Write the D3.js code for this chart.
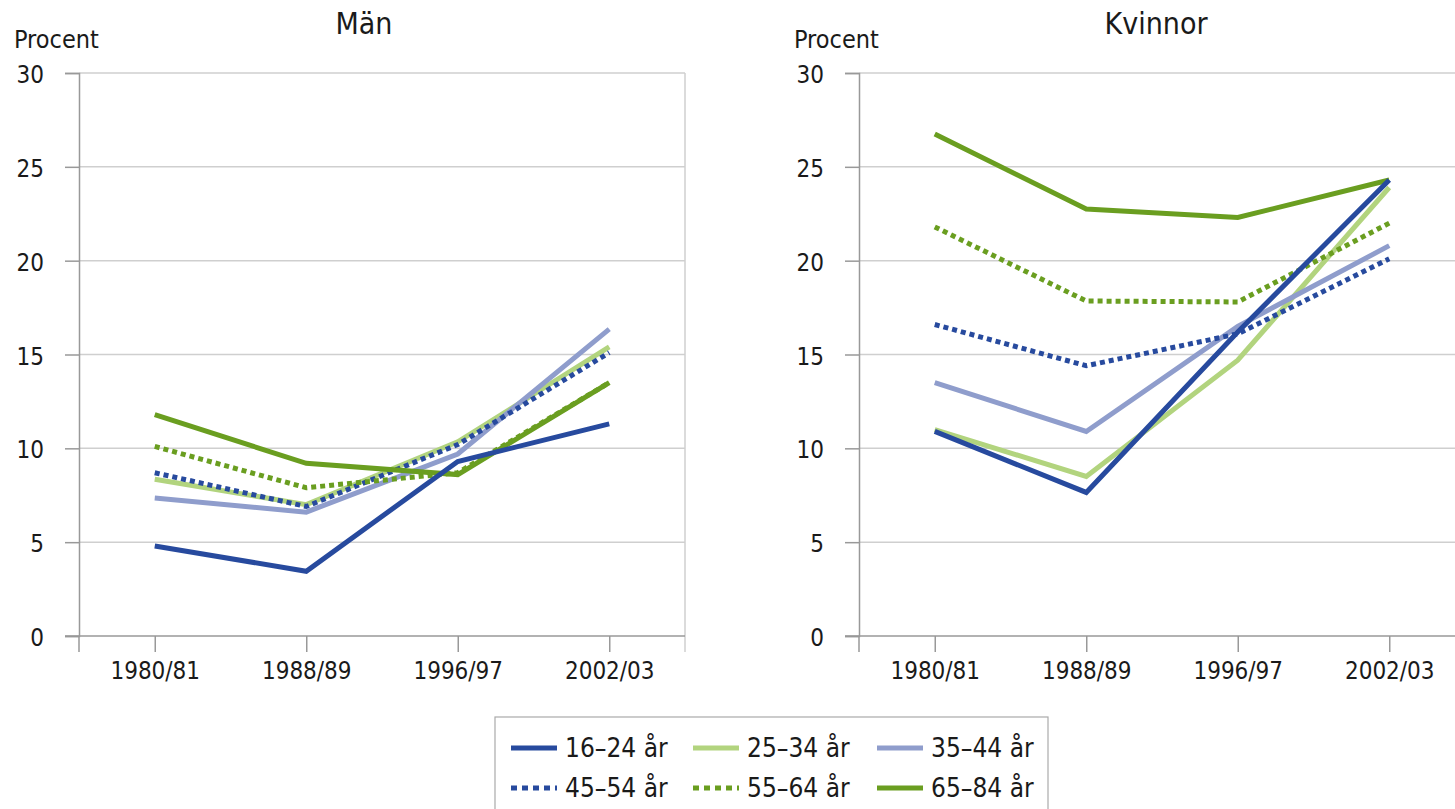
<!DOCTYPE html>
<html>
<head>
<meta charset="utf-8">
<title>Procent per åldersgrupp</title>
<script src="https://d3js.org/d3.v7.min.js"></script>
<style>
  body { margin: 0; background: #fff; }
  text { font-family: "Liberation Sans Narrow", "DejaVu Sans Condensed", "Noto Sans", sans-serif; fill: #1a1a1a; }
</style>
</head>
<body>
<svg id="chart" width="1455" height="809"></svg>
<script>
// data
const years = ["1980/81", "1988/89", "1996/97", "2002/03"];
const groups = ["16–24 år", "25–34 år", "35–44 år", "45–54 år", "55–64 år", "65–84 år"];
const yTicks = [0, 5, 10, 15, 20, 25, 30];

const man = [
  [4.8, 3.45, 9.3, 11.3],
  [8.35, 7.0, 10.35, 15.4],
  [7.35, 6.6, 9.7, 16.35],
  [8.7, 6.9, 10.2, 15.1],
  [10.1, 7.9, 8.7, 13.5],
  [11.8, 9.2, 8.6, 13.5]
];
const kvinnor = [
  [10.9, 7.65, 16.2, 24.3],
  [11.0, 8.5, 14.7, 23.9],
  [13.5, 10.9, 16.5, 20.8],
  [16.6, 14.4, 16.1, 20.1],
  [21.8, 17.85, 17.8, 22.0],
  [26.75, 22.75, 22.3, 24.3]
];

const colors = ["#274a9e", "#b2d47e", "#8f9dcc", "#274a9e", "#6a9e20", "#6a9e20"];
const dashed = [false, false, false, true, true, false];

const svg = d3.select("#chart");
const plotTop = 73, plotBottom = 636, plotW = 606;

const y = d3.scaleLinear().domain([0, 30]).range([plotBottom, plotTop]);

function panel(x0, title, titleX, values) {
  const x = d3.scalePoint().domain(years).range([x0, x0 + plotW]).padding(0.5);
  const g = svg.append("g");

  // gridlines
  g.selectAll(".grid").data(yTicks.filter(d => d > 0)).enter().append("line")
    .attr("x1", x0).attr("x2", x0 + plotW)
    .attr("y1", d => y(d)).attr("y2", d => y(d))
    .attr("stroke", "#cfcfcf").attr("stroke-width", 1.5);

  // right border
  g.append("line").attr("x1", x0 + plotW).attr("x2", x0 + plotW)
    .attr("y1", plotTop).attr("y2", plotBottom + 16)
    .attr("stroke", "#cfcfcf").attr("stroke-width", 1.5);

  // y axis
  const ya = g.append("g").attr("transform", "translate(" + x0 + ",0)")
    .call(d3.axisLeft(y).tickValues(yTicks).tickSize(14).tickPadding(21));
  ya.select(".domain").attr("stroke", "#999").attr("stroke-width", 1.5);
  ya.selectAll(".tick line").attr("stroke", "#999").attr("stroke-width", 1.5);
  ya.selectAll("text").attr("font-size", 24).attr("dy", "0.4em").style("fill", "#1a1a1a");

  // x axis
  const xa = g.append("g").attr("transform", "translate(0," + plotBottom + ")")
    .call(d3.axisBottom(x).tickSize(16).tickPadding(10));
  xa.select(".domain").remove();
  g.append("line").attr("x1", x0 - 14).attr("x2", x0 + plotW)
    .attr("y1", plotBottom).attr("y2", plotBottom).attr("stroke", "#999").attr("stroke-width", 1.5);
  g.append("line").attr("x1", x0).attr("x2", x0)
    .attr("y1", plotBottom).attr("y2", plotBottom + 16).attr("stroke", "#999").attr("stroke-width", 1.5);
  xa.selectAll(".tick line").attr("stroke", "#999").attr("stroke-width", 1.5);
  xa.selectAll("text").attr("font-size", 24).style("fill", "#1a1a1a");

  g.append("text").attr("x", x0 - 65).attr("y", 48).attr("font-size", 25).text("Procent");
  g.append("text").attr("x", titleX).attr("y", 34).attr("text-anchor", "middle")
    .attr("font-size", 30).text(title);

  const line = d3.line().x((d, i) => x(years[i])).y(d => y(d));
  const order = [1, 2, 3, 4, 5, 0];
  order.forEach(k => {
    g.append("path").datum(values[k])
      .attr("fill", "none")
      .attr("stroke", colors[k])
      .attr("stroke-width", 5)
      .attr("stroke-dasharray", dashed[k] ? "5,4" : null)
      .attr("d", line);
  });
}

panel(79, "Män", 364, man);
panel(859, "Kvinnor", 1156, kvinnor);

// legend
const lg = svg.append("g");
lg.append("rect").attr("x", 495).attr("y", 717).attr("width", 553).attr("height", 110)
  .attr("fill", "#fff").attr("stroke", "#aaa").attr("stroke-width", 1.2);
const colX = [511, 693, 877], rowY = [748, 788];
groups.forEach((name, i) => {
  const cx = colX[i % 3], cy = rowY[Math.floor(i / 3)];
  lg.append("line").attr("x1", cx).attr("x2", cx + 46).attr("y1", cy).attr("y2", cy)
    .attr("stroke", colors[i]).attr("stroke-width", 5)
    .attr("stroke-dasharray", dashed[i] ? "6,5" : null);
  lg.append("text").attr("x", cx + 54).attr("y", cy + 9).attr("font-size", 26).text(name);
});
</script>
</body>
</html>
